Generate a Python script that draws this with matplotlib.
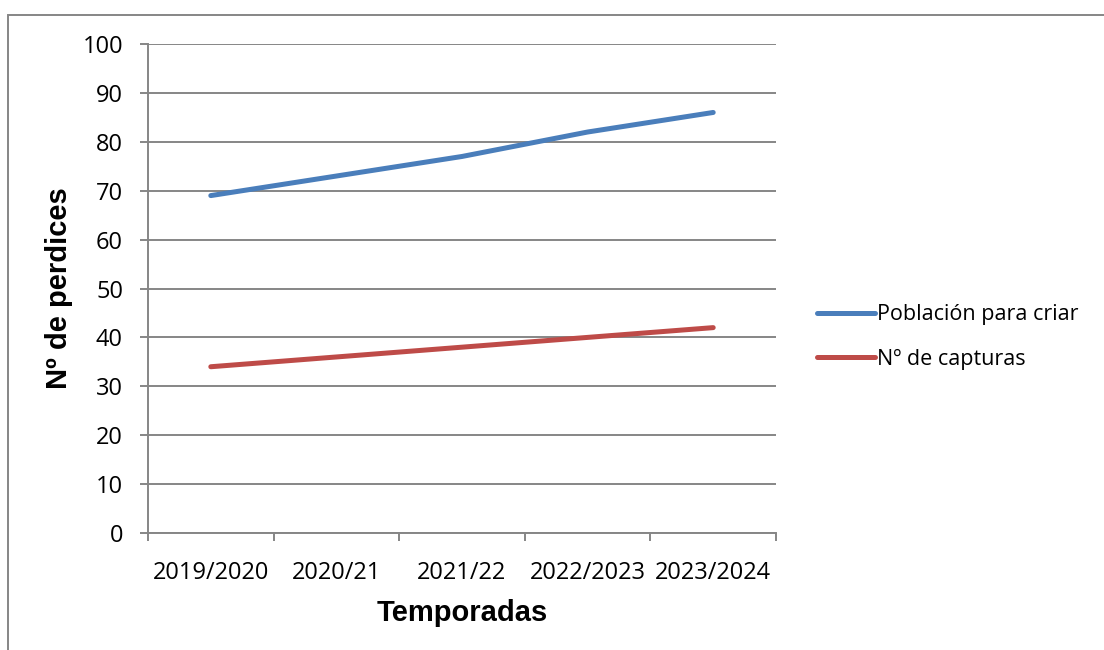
import matplotlib
matplotlib.use("Agg")
import matplotlib.pyplot as plt
from matplotlib.patches import Rectangle

temporadas = ["2019/2020", "2020/21", "2021/22", "2022/2023", "2023/2024"]
poblacion = [69, 73, 77, 82, 86]
capturas = [34, 36, 38, 40, 42]

GRIS = "#868686"
AZUL = "#4A7EBB"
ROJO = "#BE4B48"

fig = plt.figure(figsize=(11.04, 6.5), dpi=100)
ax = fig.add_axes([148 / 1104, 117 / 650, 628 / 1104, 489 / 650])

x = range(len(temporadas))
ax.plot(x, poblacion, color=AZUL, lw=3.6, solid_capstyle="round",
        solid_joinstyle="round", label="Población para criar")
ax.plot(x, capturas, color=ROJO, lw=3.6, solid_capstyle="round",
        solid_joinstyle="round", label="Nº de capturas")

ax.set_xlim(-0.5, len(temporadas) - 0.5)
ax.set_ylim(0, 100)
ax.set_yticks(range(0, 101, 10))
ax.yaxis.grid(True, color=GRIS, lw=1.4)
ax.set_axisbelow(True)

# ticks between categories, labels in the middle
ax.set_xticks([i - 0.5 for i in range(len(temporadas) + 1)])
ax.set_xticklabels([])
ax.set_xticks(list(x), minor=True)
ax.set_xticklabels(temporadas, minor=True, fontfamily="Open Sans", fontsize=17)
ax.tick_params(axis="x", which="major", direction="out", length=6, color=GRIS, width=1.4)
ax.tick_params(axis="x", which="minor", length=0, pad=20)
ax.tick_params(axis="y", direction="out", length=6, color=GRIS, width=1.4, pad=12)
for t in ax.get_yticklabels():
    t.set_fontfamily("Open Sans")
    t.set_fontsize(17)

for s in ["top", "right"]:
    ax.spines[s].set_visible(False)
for s in ["left", "bottom"]:
    ax.spines[s].set_color(GRIS)
    ax.spines[s].set_linewidth(1.4)

ax.set_xlabel("Temporadas", fontfamily="Liberation Sans", fontweight="bold",
              fontsize=21, labelpad=10)
ax.set_ylabel("Nº de perdices", fontfamily="Liberation Sans", fontweight="bold",
              fontsize=21, labelpad=7)

leg = fig.legend(loc="center left", bbox_to_anchor=(817 / 1104, 1 - 337 / 650),
                 frameon=False, borderpad=0, borderaxespad=0, handlelength=2.7,
                 handletextpad=0.1, labelspacing=1.1,
                 prop={"family": "Open Sans", "size": 15.5})

fig.add_artist(Rectangle((8 / 1104, -0.1), 1.2, 1.1 - 15 / 650,
                         transform=fig.transFigure, fill=False,
                         edgecolor=GRIS, lw=1.4))

fig.savefig("out.png", dpi=100)
